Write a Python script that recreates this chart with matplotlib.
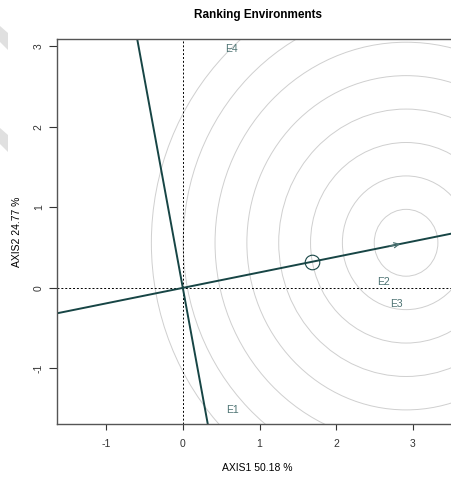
import numpy as np
import matplotlib.pyplot as plt
from matplotlib.patches import Circle, Polygon

plt.rcParams['font.family'] = ['Liberation Sans', 'DejaVu Sans']

# environment labels and where they sit
env_names = ['E1', 'E2', 'E3', 'E4']
env_x = [0.65, 2.61, 2.78, 0.64]
env_y = [-1.52, 0.075, -0.20, 2.97]

# average environment / ideal point
ideal_x, ideal_y = 2.91, 0.56
mean_env = (1.68, 0.32)
ring_step = 0.415
n_rings = 8

xticks = [-1, 0, 1, 2, 3]
yticks = [-1, 0, 1, 2, 3]
xlim = (-1.64, 3.60)
ylim = (-1.69, 3.09)

line_col = '#174545'
lab_col = '#4d7373'

W, H = 451, 478
fig = plt.figure(figsize=(W / 100, H / 100), dpi=100)
ax = fig.add_axes([57 / W, 1 - 424 / H, 402 / W, 385 / H])
ax.set_xlim(xlim)
ax.set_ylim(ylim)

# concentric circles round the ideal point
for k in range(1, n_rings + 1):
    ax.add_patch(Circle((ideal_x, ideal_y), ring_step * k, fill=False,
                        ec='#cfcfcf', lw=0.7))

ax.axhline(0, color='black', lw=0.7, ls=(0, (2, 2)))
ax.axvline(0, color='black', lw=0.7, ls=(0, (2, 2)))

# AEA line and perpendicular through origin
slope = ideal_y / ideal_x
xs = np.array(xlim)
ax.plot(xs, slope * xs, color=line_col, lw=1.4)
ys = np.array(ylim)
ax.plot(-slope * ys, ys, color=line_col, lw=1.4)

ax.annotate('', xy=(ideal_x - 0.04, ideal_y - 0.04 * slope),
            xytext=(ideal_x - 0.25, ideal_y - 0.25 * slope),
            arrowprops=dict(arrowstyle='->', color=lab_col, lw=0.9,
                            mutation_scale=9))
ax.plot(*mean_env, 'o', ms=10.5, mfc='none', mec=line_col, mew=0.8)

for n, x, y in zip(env_names, env_x, env_y):
    ax.text(x, y, n, color=lab_col, fontsize=7.5, ha='center', va='center')

ax.set_xticks(xticks)
ax.set_yticks(yticks)
ax.set_xticklabels([str(t) for t in xticks])
ax.set_yticklabels([str(t) for t in yticks], rotation=90, va='center')
ax.tick_params(axis='x', length=4, width=0.8, pad=7, labelsize=7.5, colors='#333333')
ax.tick_params(axis='y', length=5.5, width=0.8, pad=4, labelsize=7.5, colors='#333333')
for s in ax.spines.values():
    s.set_color('#555555')
    s.set_linewidth(1)

fig.text(258 / W, 1 - 15 / H, 'Ranking Environments', ha='center', va='center',
         fontsize=8.5, fontweight='bold')
fig.text(257 / W, 1 - 468 / H, 'AXIS1 50.18 %', ha='center', va='center', fontsize=7.5)
fig.text(17 / W, 1 - 232 / H, 'AXIS2 24.77 %', ha='center', va='center',
         rotation=90, fontsize=7.5)

# faint grey shapes at the left edge of the screenshot
for top in (26, 128):
    pts = [(0, top), (8, top + 7), (8, top + 24), (0, top + 16)]
    fig.patches.append(Polygon([(x / W, 1 - y / H) for x, y in pts],
                               closed=True, fc='#e0e0e0', ec='none',
                               transform=fig.transFigure, figure=fig))

fig.savefig('out.png', dpi=100)
